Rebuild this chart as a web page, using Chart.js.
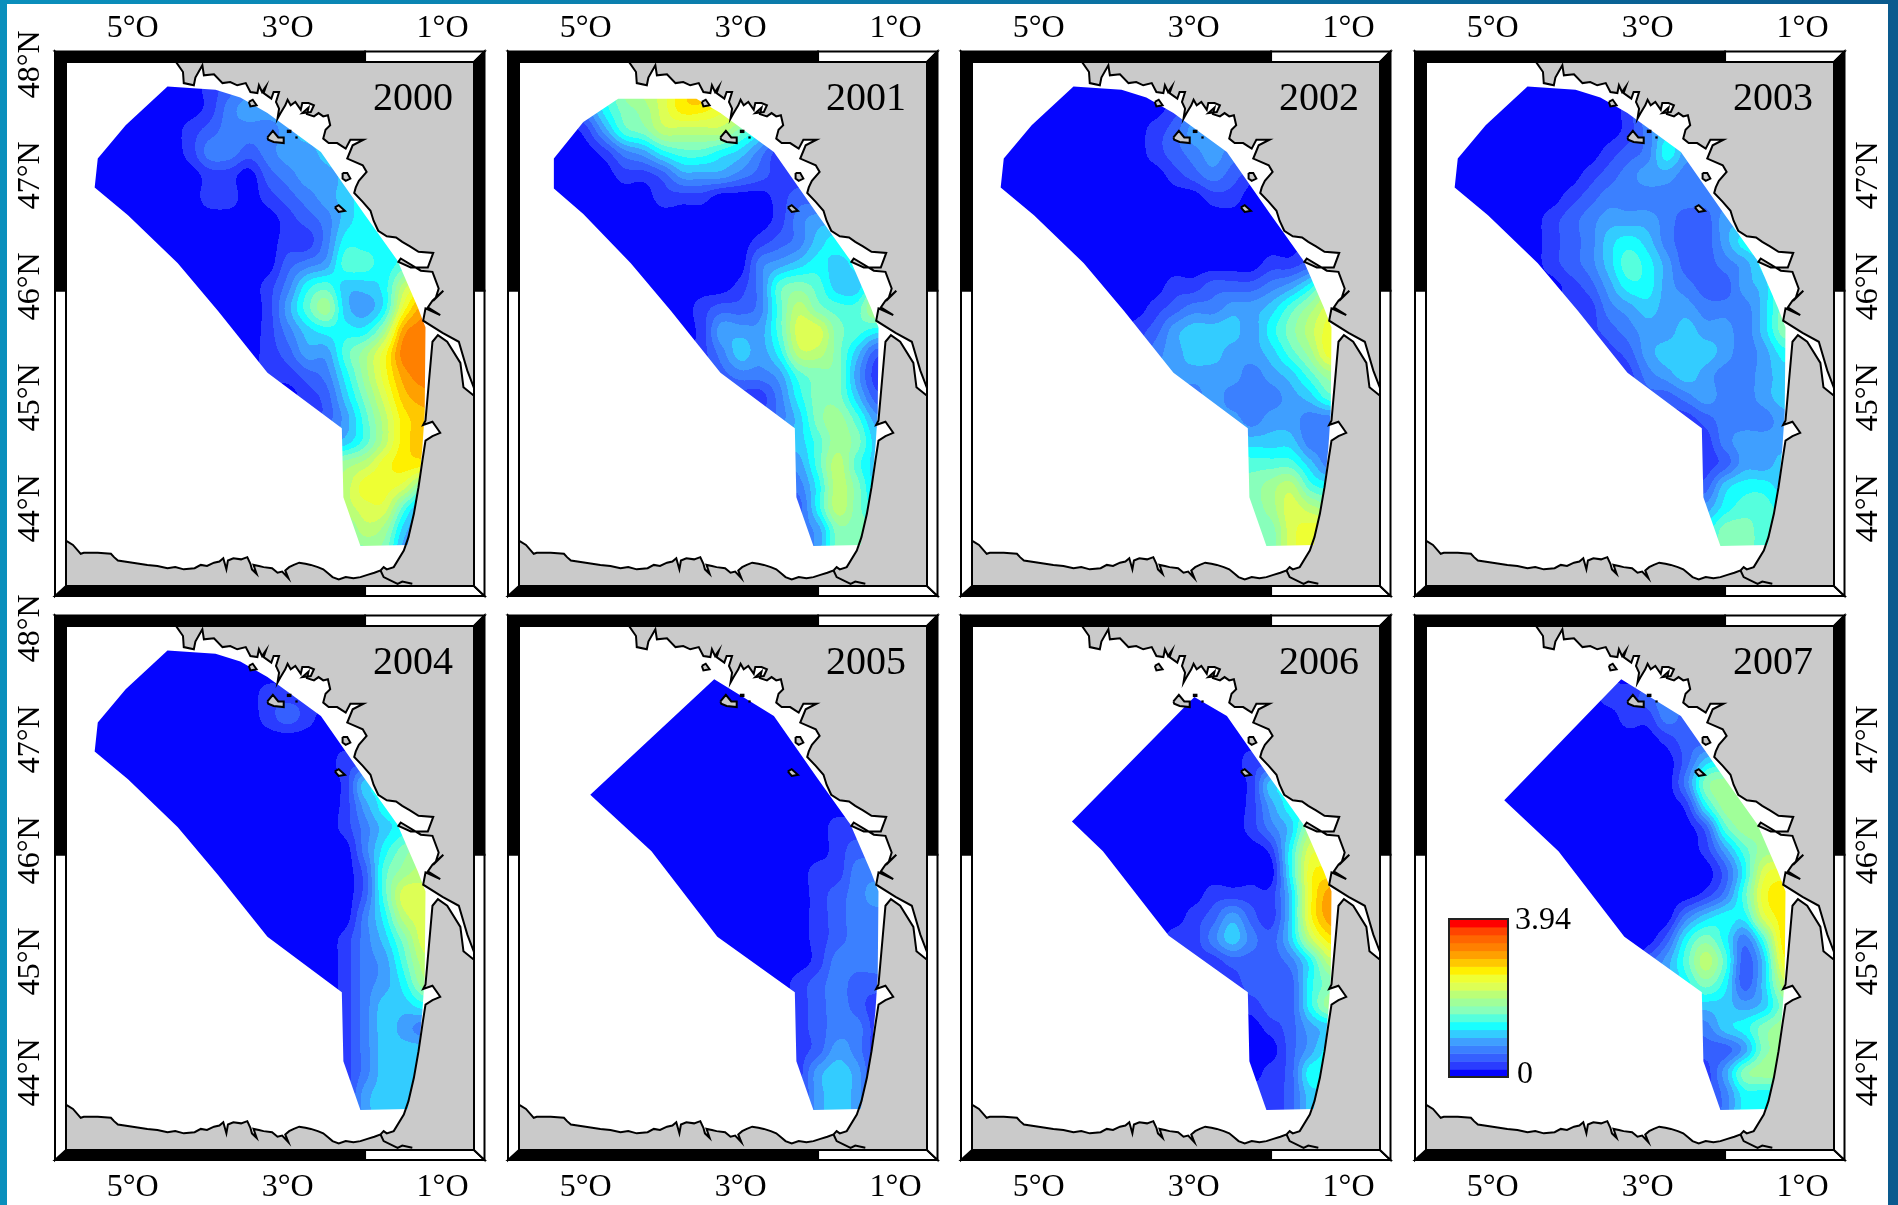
<!DOCTYPE html>
<html><head><meta charset="utf-8">
<style>
html,body{margin:0;padding:0;width:1898px;height:1205px;overflow:hidden;background:linear-gradient(90deg,#0a8fbc 0%,#0b7cab 40%,#0a5a8e 100%);}
#sheet{position:absolute;left:7px;top:4px;width:1881px;height:1201px;background:#fff;}
canvas{position:absolute;}
</style>
<script src="https://cdn.jsdelivr.net/npm/chart.js@4"></script>
</head><body>
<div id="sheet"></div>
<script>
const years=[2000,2001,2002,2003,2004,2005,2006,2007];
const gridLons=[-5.5,-5.25,-5,-4.75,-4.5,-4.25,-4,-3.75,-3.5,-3.25,-3,-2.75,-2.5,-2.25,-2,-1.75,-1.5,-1.25,-1,-0.75];
const gridLats=[47.8,47.6,47.4,47.2,47,46.8,46.6,46.4,46.2,46,45.8,45.6,45.4,45.2,45,44.8,44.6,44.4,44.2,44,43.8,43.6];
const lonTicks=[-5,-3,-1];
const latTicksLeft=[48,47,46,45,44];
const latTicksRight=[47,46,45,44];
const scaleMax=3.94;
const levelColors=['#0505ff','#2a3cff','#3560ff','#3b80ff','#3f9fff','#33ccff','#18ffff','#55ffdd','#88ffbb','#a0ff99','#bbff77','#ddff55','#eeff33','#fff000','#ffc800','#ffa000','#ff8000','#ff6600','#ff4400','#ff0000'];
const grid2000=["00000012344444444444","00000013444444444444","00000123334555555555","00000133234456666666","00000011023445666666","00000011012345666666","00000000001235666666","00000000001136667777","00000000002347767888","0000000001367556accc","0000000001479546cfff","0000000001356669fggg","000000000124479cgggg","000000000112369cfggg","000000000001258befff","111111111111247adeee","444444444444457adeee","88888888888889acdddd","9999999999999accb888","aaaaaaaaaaaaaabb7444","88888888888888a95333","88888888888888884333"];
const grid2001=["01369abdffeeeeeeeeee","013689bddcc963333333","001478aaaa8632222222","00013467765311111111","00001124443211111111","00000011100012222222","00000000000013444444","00000000000123566666","00000000000345656777","00000000001378755899","0000000012237a877aaa","0000000014447bb87666","0000000013546aa85222","00000000123347884111","00000000111136885222","11111111111235897444","55555555555555798555","444444444444447a7555","333333333333336a8555","222222222222226a8666","33333333333333488888","33333333333333488888"];
const grid2002=["00000000000000000000","00000000012222222222","00000000124444444444","00000000123433333333","00000000012321111111","00000000000110000000","00000000000000000000","00000000000000001222","00000000000000112344","000000000112223469aa","00000000123344579bbb","0000000124555468accc","00000001345544579ccc","33333333344443457999","33333333333433345777","44444444444443443333","55555555555555553333","77777777777777775333","888888888888889a7666","888888888888889ba999","888888888888888bcccc","888888888888888bcccc"];
const grid2003=["00000000000000000000","00000000013333333333","00000000013555555555","00000000123644444444","00000001234433333333","00000012333333333333","00000123444322444444","00000123565322466666","00000123576422346777","00000012466432245888","00000011345443335888","00000001234454435888","00000000124555434666","00000000013454334555","11111111112234334555","11111111111112333444","11111111111111344444","11111111111111244555","22222222222222566555","44444444444444677666","66666666666666887777","66666666666666887777"];
const grid2004=["00000000000000000000","00000000000000000000","00000000011111111111","00000000012100000000","00000000000000000000","00000000000001111111","00000000000001555555","00000000000001466666","00000000000001356666","00000000000000368999","00000000000000279aaa","0000000000000027bbbb","0000000000000036abbb","00000000000001358bbb","00000000000001347aaa","00000000000001346999","00000000000001355666","00000000000001354333","00000000000001355555","00000000000001355555","00000000000001455555","00000000000001455555"];
const grid2005=["00000000000000000000","00000000000000000000","00000000000000000000","00000000000000000000","00000000000000000000","00000000000000000000","00000000000000000000","00000000000000000000","00000000000000011111","00000000000000012222","00000000000000113333","00000000000000123444","00000000000000123333","00000000000000123333","00000000000000133333","00000000000001232222","00000000000001232111","00000000000001233111","00000000000001243111","00000000000001454111","11111111111111454111","11111111111111454111"];
const grid2006=["00000000000000000000","00000000000000000000","00000000000000000000","00000000000000000000","00000000000000000000","00000000000001111111","00000000000001555555","00000000000001466666","00000000000001359999","0000000000000016bbbb","0000000000000006cddd","000000000001111" + "5cfff","0000000000124215cfff","0000000001135325addd","00000000011122236aaa","11111111111112226888","11111111111111226999","00000000000000124555","00000000000000024666","00000000000000126666","11111111111111125555","11111111111111125555"];
const grid2007=["00000000000000000000","00000000000000000000","00000000112333333333","00000000011322222222","00000000000122222222","00000000000025666666","00000000000038999999","00000000000016999999","00000000000002799999","00000000000001479999","0000000000000026bccc","0000000000000137cddd","0000000000003566bddd","00000000000268637ddd","0000000000247a725ccc","44444444444468625aaa","55555555555555545888","33333333333333568999","222222222222222489aa","11111111111111489999","11111111111111366666","11111111111111366666"];
const grids=[grid2000,grid2001,grid2002,grid2003,grid2004,grid2005,grid2006,grid2007];
const coast=[[-4.47,48.05],[-4.35,47.93],[-4.34,47.83],[-4.21,47.81],[-4.19,47.88],[-4.1,47.99],[-4.08,47.9],[-3.95,47.91],[-3.84,47.83],[-3.74,47.84],[-3.65,47.81],[-3.54,47.83],[-3.48,47.75],[-3.39,47.74],[-3.37,47.81],[-3.33,47.75],[-3.28,47.8],[-3.31,47.74],[-3.21,47.69],[-3.18,47.75],[-3.11,47.75],[-3.15,47.66],[-3.11,47.6],[-3.13,47.51],[-3.09,47.56],[-3.03,47.63],[-3,47.68],[-2.96,47.63],[-2.9,47.66],[-2.83,47.59],[-2.81,47.65],[-2.73,47.65],[-2.66,47.63],[-2.7,47.57],[-2.81,47.56],[-2.73,47.61],[-2.75,47.55],[-2.66,47.53],[-2.6,47.56],[-2.54,47.53],[-2.48,47.54],[-2.45,47.45],[-2.51,47.41],[-2.54,47.33],[-2.47,47.29],[-2.36,47.29],[-2.25,47.24],[-2.19,47.32],[-2.02,47.32],[-2.16,47.27],[-2.23,47.15],[-2.03,47.09],[-1.98,47.03],[-2.08,46.95],[-2.12,46.89],[-2.14,46.84],[-2.03,46.76],[-1.93,46.68],[-1.89,46.59],[-1.83,46.5],[-1.72,46.45],[-1.6,46.44],[-1.52,46.4],[-1.42,46.36],[-1.31,46.31],[-1.12,46.3],[-1.19,46.17],[-1.41,46.17],[-1.57,46.22],[-1.54,46.25],[-1.28,46.14],[-1.13,46.13],[-1.05,45.98],[-1.09,45.89],[-0.99,45.96],[-1.13,45.87],[-1.19,45.81],[-1.03,45.74],[-1.22,45.8],[-1.25,45.69],[-1,45.58],[-0.79,45.5],[-0.68,45.24],[-0.57,45.04],[-0.57,45],[-0.73,45.09],[-0.77,45.31],[-0.94,45.5],[-1.06,45.56],[-1.13,45.5],[-1.22,44.79],[-1.25,44.75],[-1.13,44.78],[-1.03,44.68],[-1.13,44.65],[-1.22,44.61],[-1.26,44.43],[-1.31,44.19],[-1.37,43.95],[-1.44,43.74],[-1.5,43.62],[-1.63,43.47],[-1.72,43.45],[-1.76,43.47],[-1.8,43.44],[-1.88,43.42],[-1.97,43.4],[-2.06,43.38],[-2.15,43.37],[-2.25,43.38],[-2.34,43.36],[-2.42,43.38],[-2.47,43.41],[-2.54,43.45],[-2.61,43.47],[-2.7,43.49],[-2.77,43.5],[-2.85,43.51],[-2.92,43.49],[-2.98,43.47],[-3.03,43.44],[-2.99,43.37],[-3.07,43.43],[-3.13,43.42],[-3.2,43.46],[-3.31,43.47],[-3.37,43.48],[-3.44,43.49],[-3.4,43.41],[-3.46,43.45],[-3.48,43.5],[-3.52,43.56],[-3.6,43.54],[-3.7,43.55],[-3.77,43.53],[-3.79,43.45],[-3.83,43.55],[-3.88,43.52],[-3.95,43.51],[-4.04,43.48],[-4.12,43.49],[-4.2,43.46],[-4.34,43.45],[-4.45,43.47],[-4.55,43.46],[-4.68,43.48],[-4.81,43.49],[-5,43.51],[-5.19,43.53],[-5.24,43.56],[-5.28,43.59],[-5.45,43.6],[-5.63,43.6],[-5.67,43.59],[-5.77,43.67],[-5.84,43.7],[-5.93,43.73]];
const landCorners=[[-6,43.2],[-0.5,43.2],[-0.5,48.2]];
const borderLine=[[-1.8,43.44],[-1.76,43.38],[-1.58,43.32],[-1.52,43.34],[-1.39,43.32]];
const islands=[
 [[-3.26,47.34],[-3.19,47.4],[-3.12,47.34],[-3.05,47.34],[-3.05,47.29],[-3.18,47.3],[-3.25,47.32]],
 [[-3.5,47.66],[-3.45,47.68],[-3.4,47.63],[-3.48,47.62]],
 [[-2.29,47.02],[-2.23,47.02],[-2.19,46.97],[-2.25,46.95],[-2.29,46.97]],
 [[-2.39,46.71],[-2.34,46.73],[-2.26,46.68],[-2.34,46.67]]
];
const islets=[
 [[-3.01,47.41],[-2.95,47.41],[-2.95,47.38],[-3.01,47.38]],
 [[-2.9,47.35],[-2.87,47.35],[-2.87,47.33],[-2.9,47.33]]
];
const southEast=[[-1.32,45.81],[-1.22,45.63],[-1.23,44.86],[-1.26,44.55],[-1.31,44.19],[-1.45,43.67],[-2.06,43.66],[-2.28,44.1],[-2.3,44.72]];
const domainA=[[-4.55,47.8],[-3.93,47.77],[-3.61,47.7],[-3.26,47.56],[-2.57,47.21],[-2.02,46.66],[-1.58,46.23],...southEast,[-3.26,45.22],[-3.9,45.78],[-4.42,46.21],[-5.06,46.64],[-5.49,46.89],[-5.45,47.15],[-5.09,47.45]];
const domainTop=[[-4.58,47.69],[-3.57,47.69],[-3.26,47.56],[-2.57,47.21],[-2.02,46.66],[-1.58,46.23],...southEast,[-3.26,45.22],[-3.9,45.78],[-4.42,46.21],[-5.03,46.65],[-5.41,46.88],[-5.41,47.15],[-5.03,47.48]];
const domainB=[[-3.34,47.54],[-2.57,47.21],[-2.02,46.66],[-1.58,46.23],...southEast,[-3.3,45.22],[-4.15,45.99],[-4.94,46.5]];
const domainC=[[-2.99,47.38],[-2.57,47.21],[-2.02,46.66],[-1.58,46.23],...southEast,[-3.32,45.23],[-4.17,45.99],[-4.57,46.26]];
const domainD=[[-3.34,47.54],[-2.57,47.21],[-2.02,46.66],[-1.58,46.23],...southEast,[-3.3,45.22],[-4.15,45.99],[-4.85,46.45]];
const domains=[domainA,domainTop,domainA,domainA,domainA,domainB,domainC,domainD];
const neatLon=-2, neatLat=45.96;
const serif='"Liberation Serif","Times New Roman",serif';
const rgb=levelColors.map(c=>[parseInt(c.slice(1,3),16),parseInt(c.slice(3,5),16),parseInt(c.slice(5,7),16)]);

function tracePoly(ctx,chart,pts){
  const xs=chart.scales.x, ys=chart.scales.y;
  ctx.beginPath();
  pts.forEach((p,i)=>{const X=xs.getPixelForValue(p[0]),Y=ys.getPixelForValue(p[1]); i?ctx.lineTo(X,Y):ctx.moveTo(X,Y);});
  ctx.closePath();
}
function cr(t){const t2=t*t,t3=t2*t;return [-.5*t3+t2-.5*t,1.5*t3-2.5*t2+1,-1.5*t3+2*t2+.5*t,.5*t3-.5*t2];}
function paintHeat(chart,grid,domain){
  const a=chart.chartArea, xs=chart.scales.x, ys=chart.scales.y, ctx=chart.ctx;
  const W=Math.round(a.right-a.left), H=Math.round(a.bottom-a.top);
  const off=document.createElement('canvas'); off.width=W; off.height=H;
  const oc=off.getContext('2d'), img=oc.createImageData(W,H);
  const nx=gridLons.length, ny=gridLats.length;
  const vals=grid.map(r=>Array.from(r).map(c=>parseInt(c,36)));
  const dLon=gridLons[1]-gridLons[0], dLat=gridLats[1]-gridLats[0];
  const cl=(v,n)=>v<0?0:v>=n?n-1:v;
  for(let py=0;py<H;py++){
    const fy=Math.min(ny-1.001,Math.max(0,(ys.getValueForPixel(a.top+py+.5)-gridLats[0])/dLat));
    const j=Math.floor(fy), wy=cr(fy-j);
    for(let px=0;px<W;px++){
      const fx=Math.min(nx-1.001,Math.max(0,(xs.getValueForPixel(a.left+px+.5)-gridLons[0])/dLon));
      const i=Math.floor(fx), wx=cr(fx-i);
      let v=0;
      for(let m=0;m<4;m++){const row=vals[cl(j+m-1,ny)];for(let n=0;n<4;n++){v+=wy[m]*wx[n]*row[cl(i+n-1,nx)];}}
      const c=rgb[Math.max(0,Math.min(19,Math.round(v)))], k=(py*W+px)*4;
      img.data[k]=c[0];img.data[k+1]=c[1];img.data[k+2]=c[2];img.data[k+3]=255;
    }
  }
  oc.putImageData(img,0,0);
  ctx.save(); tracePoly(ctx,chart,domain); ctx.clip(); ctx.drawImage(off,a.left,a.top); ctx.restore();
}
function quad(ctx,pts,fill){
  ctx.beginPath(); pts.forEach((p,i)=>i?ctx.lineTo(p[0],p[1]):ctx.moveTo(p[0],p[1])); ctx.closePath();
  ctx.fillStyle=fill; ctx.fill(); ctx.lineWidth=2; ctx.strokeStyle='#000'; ctx.stroke();
}
function paintFrame(chart){
  const ctx=chart.ctx,a=chart.chartArea,L=a.left,R=a.right,T=a.top,B=a.bottom;
  const OL=L-11,OR=R+10.5,OT=T-10.5,OB=B+10;
  const sx=chart.scales.x.getPixelForValue(neatLon), sy=chart.scales.y.getPixelForValue(neatLat);
  quad(ctx,[[OL,OT],[sx,OT],[sx,T],[L,T]],'#000');
  quad(ctx,[[sx,OT],[OR,OT],[R,T],[sx,T]],'#fff');
  quad(ctx,[[OL,OB],[sx,OB],[sx,B],[L,B]],'#000');
  quad(ctx,[[sx,OB],[OR,OB],[R,B],[sx,B]],'#fff');
  quad(ctx,[[OL,OT],[L,T],[L,sy],[OL,sy]],'#000');
  quad(ctx,[[OL,sy],[L,sy],[L,B],[OL,OB]],'#fff');
  quad(ctx,[[OR,OT],[R,T],[R,sy],[OR,sy]],'#000');
  quad(ctx,[[OR,sy],[R,sy],[R,B],[OR,OB]],'#fff');
}
function paintLegend(chart){
  const ctx=chart.ctx,a=chart.chartArea;
  const x=a.left+23,w=59,top=a.top+293,h=158,n=levelColors.length,bh=h/n;
  levelColors.forEach((c,i)=>{ctx.fillStyle=c;ctx.fillRect(x,top+h-(i+1)*bh,w,bh+.5);});
  ctx.strokeStyle='#222';ctx.lineWidth=2;ctx.strokeRect(x,top,w,h);
  ctx.fillStyle='#000';ctx.font='32px '+serif;ctx.textAlign='left';ctx.textBaseline='middle';
  ctx.fillText(String(scaleMax),x+66,top+2);
  ctx.fillText('0',x+68,top+156);
}
const mapPlugin={
  id:'mapPlugin',
  beforeDatasetsDraw(chart,args,o){
    const ctx=chart.ctx,a=chart.chartArea;
    ctx.save();ctx.beginPath();ctx.rect(a.left,a.top,a.right-a.left,a.bottom-a.top);ctx.clip();
    tracePoly(ctx,chart,[...coast,...landCorners]);ctx.fillStyle='#cacaca';ctx.fill();
    paintHeat(chart,grids[o.index],domains[o.index]);
    islands.forEach(isl=>{tracePoly(ctx,chart,isl);ctx.fillStyle='#cacaca';ctx.fill();});
    islets.forEach(isl=>{tracePoly(ctx,chart,isl);ctx.fillStyle='#000';ctx.fill();});
    ctx.restore();
  },
  afterDatasetsDraw(chart,args,o){
    const ctx=chart.ctx,a=chart.chartArea;
    paintFrame(chart);
    ctx.save();ctx.fillStyle='#000';ctx.font='40px '+serif;ctx.textAlign='right';ctx.textBaseline='alphabetic';
    ctx.fillText(String(years[o.index]),a.right-21,a.top+48);ctx.restore();
    if(o.index===7)paintLegend(chart);
  }
};
function toXY(a){return a.map(p=>({x:p[0],y:p[1]}));}
function lineSet(pts,w){return {type:'scatter',showLine:true,data:toXY(pts),borderColor:'#000',backgroundColor:'#000',borderWidth:w,pointRadius:0,fill:false,tension:0};}
const MARGIN=60,IW=408,IH=524,LON0=-5.86,LON1=-0.594,LAT0=43.3,LAT1=48.02;
function xAxis(pos,show,pad){return {type:'linear',position:pos,min:LON0,max:LON1,grid:{display:false},border:{display:false},
  afterBuildTicks:s=>{s.ticks=lonTicks.map(v=>({value:v}));},afterFit:s=>{s.height=MARGIN;},
  ticks:{display:show,autoSkip:false,maxRotation:0,minRotation:0,color:'#000',padding:pad,font:{family:serif,size:32},callback:v=>Math.abs(v)+'°O'}};}
function yAxis(pos,show,list){return {type:'linear',position:pos,min:LAT0,max:LAT1,grid:{display:false},border:{display:false},
  afterBuildTicks:s=>{s.ticks=list.map(v=>({value:v}));},afterFit:s=>{s.width=MARGIN;},
  ticks:{display:show,autoSkip:false,minRotation:90,maxRotation:90,crossAlign:'center',color:'#000',padding:-7,font:{family:serif,size:32},callback:v=>v+'°N'}};}
years.forEach((yr,k)=>{
  const col=k%4,row=k<4?0:1;
  const cv=document.createElement('canvas');
  cv.id='chart'+yr;cv.width=IW+2*MARGIN;cv.height=IH+2*MARGIN;
  cv.style.left=(Math.round(65.5+453.4*col)-MARGIN)+'px';
  cv.style.top=(62+564*row-MARGIN)+'px';
  cv.style.width=cv.width+'px';cv.style.height=cv.height+'px';
  document.body.appendChild(cv);
  const nodes=[];
  grids[k].forEach((r,j)=>Array.from(r).forEach((c,i)=>nodes.push({x:gridLons[i],y:gridLats[j],v:parseInt(c,36)*scaleMax/19})));
  new Chart(cv.getContext('2d'),{
    type:'scatter',
    data:{datasets:[
      {label:'CPUE '+yr,data:nodes,pointRadius:0,showLine:false},
      lineSet(coast,2),lineSet(borderLine,2),
      ...islands.map(isl=>lineSet([...isl,isl[0]],2))
    ]},
    options:{responsive:false,animation:false,devicePixelRatio:1,layout:{padding:0},
      plugins:{legend:{display:false},tooltip:{enabled:false},title:{display:false},mapPlugin:{index:k}},
      scales:{
        x:xAxis('bottom',row===1,10),
        xTop:xAxis('top',row===0,6),
        y:yAxis('left',col===0,latTicksLeft),
        yRight:yAxis('right',col===3,latTicksRight)
      }},
    plugins:[mapPlugin]
  });
});
</script>
</body></html>
